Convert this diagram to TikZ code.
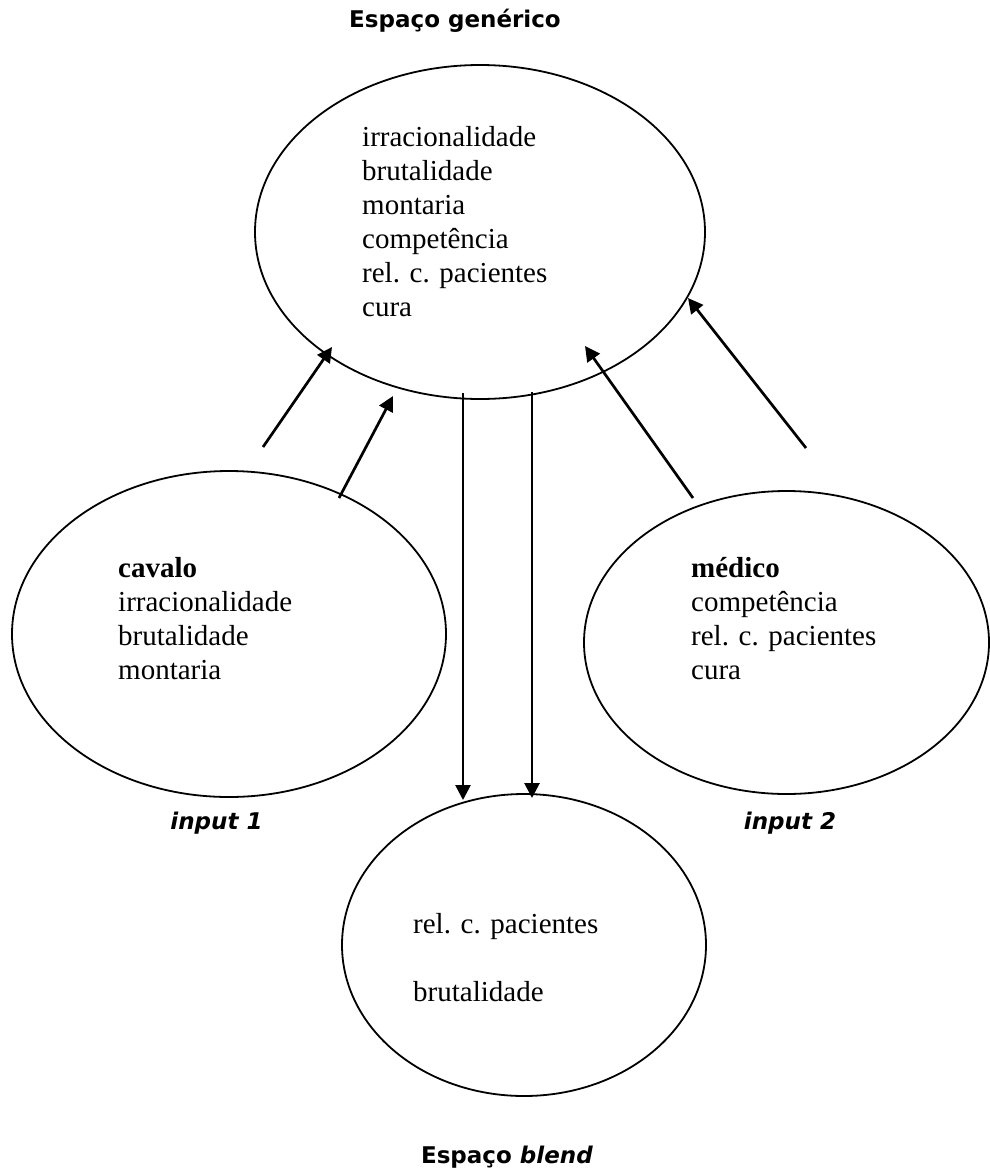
\documentclass[tikz,border=0pt]{standalone}
\usepackage{fontspec}
\setmainfont{Liberation Serif}
\newfontfamily\lblfont{DejaVu Sans}
\usetikzlibrary{shapes.geometric,arrows.meta}
\begin{document}
\begin{tikzpicture}[x=1pt,y=-1pt,
  space/.style={draw=black,line width=1.8pt,ellipse,inner sep=0pt},
  items/.style={anchor=base west,align=left,inner sep=0pt,font=\fontsize{29}{34}\selectfont},
  lbl/.style={anchor=base,inner sep=0pt,font=\lblfont\bfseries\fontsize{23}{27}\selectfont},
  arr/.style={line width=2.7pt,-{Triangle[length=15pt,width=15pt]}}]
\useasboundingbox (0,0) rectangle (989,1170);
% spaces
\node[space,minimum width=450pt,minimum height=334pt] (gen) at (480,232) {};
\node[space,minimum width=434pt,minimum height=326pt] (in1) at (229,634) {};
\node[space,minimum width=405pt,minimum height=303pt] (in2) at (786.5,642.5) {};
\node[space,minimum width=364pt,minimum height=302pt] (bl) at (524,945) {};
% contents (anchored at the baseline of the last line)
\node[items] (gentxt) at (362,316) {irracionalidade\\brutalidade\\montaria\\competência\\rel. c. pacientes\\cura};
\node[items] (in1txt) at (118,679) {\textbf{cavalo}\\irracionalidade\\brutalidade\\montaria};
\node[items] (in2txt) at (691,679) {\textbf{médico}\\competência\\rel. c. pacientes\\cura};
\node[items] (bltxt) at (413,1001) {rel. c. pacientes\\[34pt]brutalidade};
% labels
\node[lbl] (genlbl) at (455,27) {Espaço genérico};
\node[lbl] (in1lbl) at (216.5,829) {\itshape input 1};
\node[lbl] (in2lbl) at (790,829) {\itshape input 2};
\node[lbl] (bllbl) at (507,1163) {Espaço \textit{blend}};
% connector end points
\coordinate (a1s) at (263,447); \coordinate (a1e) at (332,347);
\coordinate (a2s) at (339,498); \coordinate (a2e) at (393,396);
\coordinate (a3s) at (693,498); \coordinate (a3e) at (585,346);
\coordinate (a4s) at (806,448); \coordinate (a4e) at (688,298);
\coordinate (v1s) at (463,393); \coordinate (v1e) at (463,800);
\coordinate (v2s) at (532,392); \coordinate (v2e) at (532,798);
\draw[arr] (a1s) -- (a1e);
\draw[arr] (a2s) -- (a2e);
\draw[arr] (a3s) -- (a3e);
\draw[arr] (a4s) -- (a4e);
\draw[arr] (v1s) -- (v1e);
\draw[arr] (v2s) -- (v2e);
\end{tikzpicture}
\end{document}
